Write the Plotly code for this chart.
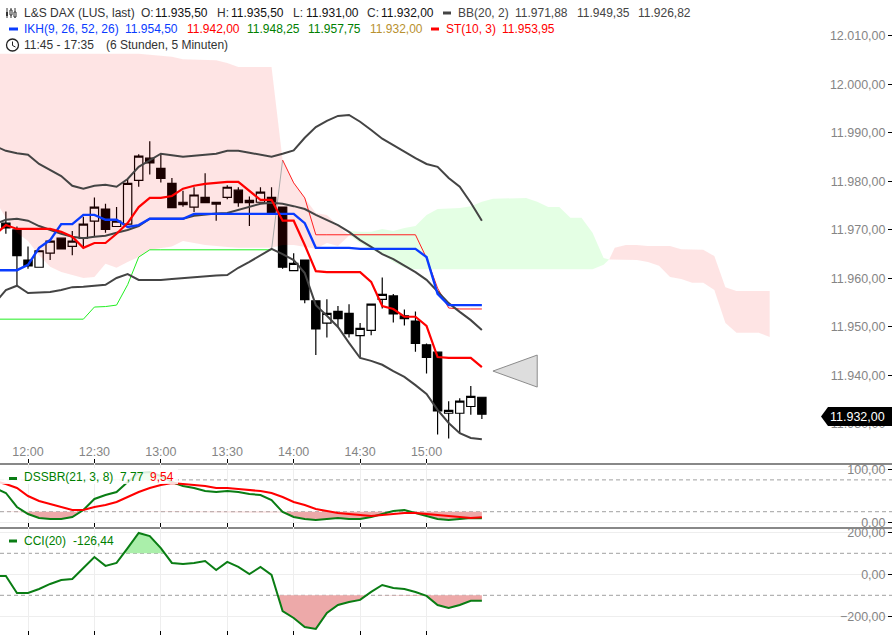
import numpy as np
import pandas as pd
import plotly.graph_objects as go
from plotly.subplots import make_subplots

DAY = "2015-03-02 "
W, H = 892, 635

# 5 minute grid, 11:45 to 17:35 (cloud runs ahead of the price)
times = pd.date_range(DAY + "11:45", periods=71, freq="5min")
tick_vals = [DAY + t for t in ["12:00", "12:30", "13:00", "13:30", "14:00", "14:30", "15:00"]]
tick_text = ["12:00", "12:30", "13:00", "13:30", "14:00", "14:30", "15:00"]

# candles start 11:50
opens = [11971.4, 11970.0, 11963.8, 11962.3, 11965.2, 11968.3, 11966.6, 11968.3, 11971.8, 11974.3, 11970.7,
         11971.2, 11980.2, 11984.8, 11982.7, 11979.6, 11975.7, 11974.7, 11976.7, 11975.3, 11976.7, 11978.2,
         11976.1, 11975.7, 11976.7, 11974.7, 11961.6, 11963.8, 11955.4, 11950.8, 11953.2, 11952.8, 11948.2,
         11949.3, 11955.7, 11956.4, 11952.3, 11951.2, 11946.3, 11944.8, 11932.2, 11932.2, 11933.6, 11935.5]
highs = [11973.8, 11970.7, 11966.6, 11965.7, 11967.7, 11968.3, 11969.8, 11972.7, 11976.7, 11975.4, 11974.7,
         11980.7, 11985.6, 11988.3, 11985.5, 11980.7, 11978.1, 11978.8, 11981.7, 11975.7, 11979.2, 11978.8,
         11976.9, 11978.8, 11978.8, 11974.7, 11965.2, 11963.8, 11955.4, 11955.7, 11954.3, 11954.7, 11950.8,
         11954.7, 11960.2, 11956.8, 11953.6, 11953.2, 11946.6, 11944.8, 11934.7, 11935.3, 11937.8, 11935.5]
lows = [11969.2, 11958.4, 11962.0, 11962.3, 11963.8, 11966.0, 11964.8, 11966.2, 11968.6, 11969.4, 11970.7,
        11971.0, 11978.9, 11981.4, 11979.8, 11974.6, 11974.8, 11973.7, 11975.6, 11971.9, 11976.3, 11974.8,
        11970.8, 11975.7, 11973.6, 11962.0, 11961.6, 11954.9, 11944.2, 11947.8, 11949.9, 11947.8, 11943.7,
        11948.3, 11953.8, 11950.9, 11950.3, 11944.9, 11940.4, 11927.8, 11927.0, 11928.1, 11931.9, 11931.0]
closes = [11970.4, 11964.7, 11962.6, 11965.7, 11967.7, 11966.1, 11967.7, 11971.2, 11974.7, 11970.1, 11971.8,
          11979.6, 11985.2, 11983.8, 11980.6, 11974.6, 11975.2, 11977.2, 11975.6, 11975.7, 11978.8, 11975.6,
          11975.6, 11977.8, 11973.6, 11962.3, 11963.1, 11955.6, 11949.6, 11952.8, 11951.7, 11948.6, 11949.7,
          11954.7, 11956.7, 11952.7, 11951.7, 11946.6, 11943.7, 11932.7, 11932.8, 11934.7, 11935.7, 11932.0]

# Bollinger bands, 11:45 to 15:25
bb_upper = [11987.3, 11986.3, 11985.8, 11985.5, 11983.6, 11982.4, 11981.1, 11979.1, 11978.5, 11979.1, 11979.3,
            11978.9, 11980.5, 11983.0, 11984.4, 11985.7, 11985.4, 11985.1, 11985.3, 11985.5, 11985.7, 11986.3,
            11986.3, 11985.9, 11985.5, 11985.1, 11985.7, 11986.4, 11989.0, 11991.2, 11992.5, 11993.5, 11993.7,
            11992.3, 11990.6, 11988.8, 11987.5, 11986.1, 11984.8, 11983.6, 11983.0, 11980.7, 11978.9, 11975.6,
            11971.88]
bb_mid = [11971.2, 11972.1, 11972.3, 11971.9, 11970.8, 11970.0, 11969.2, 11968.6, 11968.3, 11968.6, 11968.8,
          11969.4, 11970.0, 11970.8, 11972.3, 11972.3, 11972.3, 11972.3, 11972.9, 11973.2, 11973.4, 11973.5,
          11974.1, 11974.7, 11975.4, 11975.6, 11975.4, 11974.9, 11974.3, 11973.1, 11972.1, 11971.0, 11969.6,
          11967.9, 11966.5, 11965.0, 11964.0, 11962.6, 11961.3, 11959.7, 11957.4, 11954.9, 11953.1, 11951.4,
          11949.35]
bb_lower = [11954.9, 11957.6, 11958.5, 11957.0, 11957.1, 11957.2, 11957.6, 11958.2, 11958.3, 11958.5, 11958.7,
            11960.1, 11960.9, 11959.7, 11959.7, 11959.7, 11959.9, 11960.1, 11960.3, 11960.5, 11960.6, 11960.7,
            11962.2, 11963.4, 11964.8, 11966.1, 11965.0, 11963.8, 11961.1, 11954.5, 11952.3, 11950.0, 11946.7,
            11943.6, 11943.0, 11942.2, 11940.9, 11939.7, 11938.0, 11936.2, 11932.9, 11930.2, 11928.1, 11927.1,
            11926.82]

ikh_blue = [11961.7, 11961.7, 11961.7, 11962.8, 11966.3, 11967.9, 11971.2, 11971.2, 11973.1, 11973.1, 11972.1,
            11972.1, 11970.6, 11971.0, 11972.3, 11972.3, 11972.3, 11972.3, 11973.3, 11973.3, 11973.3, 11973.3,
            11973.3, 11973.3, 11973.3, 11973.3, 11973.3, 11973.3, 11971.4, 11966.3, 11966.3, 11966.3, 11966.3,
            11966.1, 11966.1, 11966.1, 11966.1, 11966.1, 11966.1, 11964.4, 11956.8, 11954.5, 11954.5, 11954.5,
            11954.5]
st_red = [11969.0, 11971.0, 11970.2, 11970.2, 11970.2, 11970.2, 11969.6, 11968.6, 11966.3, 11967.3, 11967.3,
          11969.2, 11971.4, 11974.7, 11976.6, 11976.6, 11977.0, 11978.5, 11979.1, 11979.5, 11979.7, 11979.9,
          11979.9, 11978.0, 11976.2, 11976.2, 11971.9, 11971.9, 11966.9, 11961.5, 11961.3, 11961.3, 11961.3,
          11961.3, 11959.3, 11954.3, 11953.7, 11952.1, 11952.1, 11950.2, 11943.8, 11943.6, 11943.6, 11943.6,
          11941.7]

# thin ichimoku lines: green 11:45 to 13:50, red 13:55 to 15:25
thin_green = [11951.6, 11951.6, 11951.6, 11951.6, 11951.6, 11951.6, 11951.6, 11951.6, 11951.6, 11954.1, 11954.2,
              11954.5, 11958.7, 11964.4, 11965.9, 11965.9, 11965.9, 11965.9, 11965.9, 11965.9, 11965.9, 11965.9,
              11965.9, 11965.9, 11965.9, 11965.9]
thin_red = [11984.4, 11979.7, 11976.6, 11969.0, 11969.0, 11969.0, 11969.0, 11969.0, 11969.0, 11969.0, 11969.0,
            11969.0, 11969.0, 11964.2, 11958.0, 11953.9, 11953.7, 11953.7, 11953.7]

# cloud, pink part 11:45 to 14:30
pink_top = [12006.3] * 14 + [12006.1, 12005.9, 12005.7, 12005.2, 12005.1, 12005.1, 12005.0, 12004.4, 12003.6,
                             12003.6, 12003.6, 12003.6, 11984.4, 11979.7, 11976.6, 11973.5, 11973.1, 11971.0, 11969.0]
pink_bot = [11976.2, 11972.5, 11969.4, 11967.7, 11964.8, 11962.4, 11961.3, 11960.7, 11960.1, 11960.3, 11963.0,
            11962.2, 11963.4, 11964.4, 11965.9, 11966.3, 11966.6, 11967.7, 11967.3, 11966.9, 11966.7, 11966.5,
            11966.3, 11966.3, 11966.3, 11966.3, 11966.9, 11966.9, 11966.5, 11966.1, 11967.3, 11966.7, 11968.8]
# green part 14:30 to 16:20
green_top = [11969.8, 11969.6, 11969.6, 11970.2, 11969.8, 11970.4, 11970.8, 11973.1, 11974.3, 11974.4, 11974.5,
             11974.9, 11975.8, 11976.4, 11976.5, 11976.6, 11976.6, 11975.8, 11974.7, 11974.7, 11972.5, 11972.5,
             11969.4, 11964.2]
green_bot = [11969.0, 11967.3, 11965.9, 11965.0, 11963.4, 11962.2] + [11961.9] * 17 + [11962.8]
# second pink part 16:25 to 17:35
pink2_top = [11966.3, 11966.9, 11966.9, 11966.7, 11966.7, 11966.7, 11966.0, 11965.9, 11965.9, 11964.6, 11958.2,
             11957.4, 11957.4, 11957.4, 11957.4]
pink2_bot = [11963.9, 11963.8, 11963.8, 11963.4, 11962.6, 11960.3, 11959.9, 11959.1, 11959.1, 11957.6, 11950.8,
             11948.8, 11948.8, 11948.8, 11947.9]
cloud_cross = pd.Timestamp(DAY + "16:22:30")
cloud_cross_val = 11963.9

dss_green = [64.7, 55.3, 28.9, 15.7, 8.1, 6.2, 6.2, 10, 23.2, 44, 51.5, 57.2, 76, 93, 94.9, 87.4, 76, 68.5, 64.7,
             59, 57.2, 59, 57.2, 53.4, 51.5, 42, 19.4, 10, 6.2, 4.3, 6.2, 8.1, 6.2, 6.2, 10, 15.7, 21.3, 23.2,
             17.5, 11.9, 6.2, 4.3, 6.2, 8.1, 7.77]
dss_red = [77.9, 72.3, 64.7, 49.6, 40.2, 34.5, 28.9, 23.2, 23.2, 28.9, 32.6, 38.3, 47.7, 57.2, 64.7, 70.4, 74.2,
           72.3, 70.4, 68.5, 64.7, 64.7, 62.8, 60.9, 59, 55.3, 47.7, 38.3, 32.6, 25.1, 21.3, 17.5, 15.7, 13.8,
           11.9, 13.8, 15.7, 17.5, 17.5, 15.7, 13.8, 11.9, 10, 8.1, 9.54]
cci = [-8, -8, -89, -89, -70, -46, -27, -22, 30, 82, 40, 54, 125, 197, 182, 125, 54, 49, 54, 63, 20, 59, 35, 1,
       35, -3, -175, -208, -251, -260, -184, -146, -132, -122, -84, -51, -65, -70, -84, -103, -146, -160, -146,
       -126.44, -126.44]

# arrow that marks the last price
marker_times = [DAY + "15:30", DAY + "15:50", DAY + "15:50"]
marker_vals = [11940.9, 11944.2, 11937.6]

PINK = "rgba(250,0,0,0.105)"
PALE_GREEN = "rgba(0,255,0,0.105)"
DARK = "#444444"
BAND_RED = "#eda9a9"
BAND_GREEN = "#aaefaa"
TEXT = "#333333"
GRAY = "#858585"
LINE_GREEN = "#0a7d14"


def px(x, y):
    return x / W, 1 - y / H


def line(x, y, color, width=2, row=1):
    fig.add_trace(
        go.Scatter(x=x, y=y, mode="lines", line=dict(color=color, width=width), hoverinfo="skip"),
        row=row, col=1,
    )


def band(x, top, bot, color):
    fig.add_trace(
        go.Scatter(x=list(x) + list(x)[::-1], y=list(top) + list(bot)[::-1], mode="lines", fill="toself",
                   fillcolor=color, line=dict(width=0), hoverinfo="skip"),
    )


def level_fill(values, level, color, row, above):
    # shade between a series and a guide level
    sec = (times[:45] - times[0]).total_seconds().to_numpy()
    fine = np.arange(0, sec[-1] + 1, 15)
    vals = np.interp(fine, sec, values)
    vals = np.maximum(vals, level) if above else np.minimum(vals, level)
    xs = times[0] + pd.to_timedelta(fine, unit="s")
    fig.add_trace(
        go.Scatter(x=list(xs) + list(xs)[::-1], y=list(vals) + [level] * len(xs), mode="lines", fill="toself",
                   fillcolor=color, line=dict(width=0), hoverinfo="skip"),
        row=row, col=1,
    )


def label(x, y, text, color=TEXT, size=12):
    ax, ay = px(x, y)
    fig.add_annotation(x=ax, y=ay, xref="paper", yref="paper", text=text, showarrow=False, xanchor="left",
                       yanchor="middle", borderpad=0, font=dict(size=size, color=color))


def rect(x0, y0, x1, y1, color, lw=0, lc=None):
    a, b = px(x0, y0)
    c, d = px(x1, y1)
    fig.add_shape(type="rect", xref="paper", yref="paper", x0=a, y0=b, x1=c, y1=d, fillcolor=color,
                  line=dict(width=lw, color=lc))


def seg(x0, y0, x1, y1, color=TEXT, lw=1):
    a, b = px(x0, y0)
    c, d = px(x1, y1)
    fig.add_shape(type="line", xref="paper", yref="paper", x0=a, y0=b, x1=c, y1=d, line=dict(color=color, width=lw))


fig = make_subplots(rows=3, cols=1, shared_xaxes=True, vertical_spacing=0,
                    row_heights=[462.5 / H, 64 / H, 108.5 / H])

fig.add_trace(
    go.Candlestick(x=times[1:45], open=opens, high=highs, low=lows, close=closes, hoverinfo="skip", whiskerwidth=0,
                   increasing=dict(line=dict(color="#000000", width=1.2), fillcolor="#ffffff"),
                   decreasing=dict(line=dict(color="#000000", width=1.2), fillcolor="#000000")),
    row=1, col=1,
)

band(times[:33], pink_top, pink_bot, PINK)
band(list(times[32:56]) + [cloud_cross], green_top + [cloud_cross_val], green_bot + [cloud_cross_val], PALE_GREEN)
band([cloud_cross] + list(times[56:71]), [cloud_cross_val] + pink2_top, [cloud_cross_val] + pink2_bot, PINK)

line(times[:26], thin_green, "#22ee22", 1)
line([times[25], times[26]], [thin_green[-1], thin_red[0]], "#aaaaaa", 1)
line(times[26:45], thin_red, "#ff2020", 1)
line(times[:45], bb_upper, DARK)
line(times[:45], bb_mid, DARK)
line(times[:45], bb_lower, DARK)
line(times[:45], ikh_blue, "#0a3cff", 2.4)
line(times[:45], st_red, "#ff0000", 2.2)

fig.add_trace(
    go.Scatter(x=marker_times + marker_times[:1], y=marker_vals + marker_vals[:1], mode="lines", fill="toself",
               fillcolor="#dddddd", line=dict(color="#8c8c8c", width=1), hoverinfo="skip"),
    row=1, col=1,
)

level_fill(dss_green, 20, BAND_RED, 2, False)
level_fill(dss_green, 80, BAND_GREEN, 2, True)
line(times[:45], dss_green, LINE_GREEN, 2, row=2)
line(times[:45], dss_red, "#ff0000", 2, row=2)

level_fill(cci, -100, BAND_RED, 3, False)
level_fill(cci, 100, BAND_GREEN, 3, True)
line(times[:45], cci, LINE_GREEN, 2, row=3)

x_range = [DAY + "11:47:21", DAY + "18:30:15"]
axis_x = dict(range=x_range, tickmode="array", tickvals=tick_vals, ticktext=tick_text, ticks="inside", ticklen=4,
              tickcolor="#000000", tickwidth=1, showline=True, linecolor="#888888", linewidth=1.5, zeroline=False,
              rangeslider=dict(visible=False), automargin=False)
fig.update_xaxes(**axis_x)
fig.update_xaxes(row=1, col=1, showticklabels=True, ticklabelposition="inside", showgrid=False,
                 tickfont=dict(size=12.5, color=GRAY))
fig.update_xaxes(row=2, col=1, showticklabels=False, showgrid=True, gridcolor="#eeeeee")
fig.update_xaxes(row=3, col=1, showticklabels=False, showgrid=True, gridcolor="#eeeeee")

axis_y = dict(side="right", ticklabelposition="inside", ticklabeloverflow="allow", ticklabelstandoff=2,
              ticks="inside", ticklen=4, tickcolor="#000000", tickformat=",.2f", automargin=False,
              tickfont=dict(size=12.5, color=GRAY), zeroline=False, showline=False)
fig.update_yaxes(**axis_y)
fig.update_yaxes(row=1, col=1, range=[11922.05, 12017.4], showgrid=False, tickmode="array",
                 tickvals=[11930, 11940, 11950, 11960, 11970, 11980, 11990, 12000, 12010])
fig.update_yaxes(row=2, col=1, range=[-7.9, 112.8], showgrid=True, gridcolor="#eeeeee", tickmode="array",
                 tickvals=[0, 100])
fig.update_yaxes(row=3, col=1, range=[-289, 227.6], showgrid=True, gridcolor="#eeeeee", tickmode="array",
                 tickvals=[-200, 0, 200])

for level, yref in [(80, "y2"), (20, "y2"), (100, "y3"), (-100, "y3")]:
    fig.add_shape(type="line", xref="paper", x0=0, x1=1, yref=yref, y0=level, y1=level, layer="below",
                  line=dict(color="#a0a0a0", width=1, dash="4px,3px"))

# legend rows
label(23, 13, "L&S DAX (LUS, last)")
label(140, 13, "O:")
label(154, 13, "11.935,50", "#111111")
label(216, 13, "H:")
label(230, 13, "11.935,50", "#111111")
label(292, 13, "L:")
label(305, 13, "11.931,00", "#111111")
label(366, 13, "C:")
label(380, 13, "11.932,00", "#111111")
rect(443, 11.5, 451, 14.5, DARK)
label(457, 13, "BB(20, 2)", "#444444")
label(514, 13, "11.971,88", "#444444")
label(576, 13, "11.949,35", "#444444")
label(637, 13, "11.926,82", "#444444")

rect(9, 27.5, 18, 30.5, "#0a3cff")
label(23, 29, "IKH(9, 26, 52, 26)", "#0a3cff")
label(124, 29, "11.954,50", "#0a3cff")
label(186, 29, "11.942,00", "#ff0000")
label(246, 29, "11.948,25", "#008000")
label(307, 29, "11.957,75", "#008000")
label(369, 29, "11.932,00", "#b8912f")
rect(431, 27.5, 439, 30.5, "#ff0000")
label(445, 29, "ST(10, 3)", "#ff0000")
label(501, 29, "11.953,95", "#ff0000")

label(23, 45, "11:45 - 17:35")
label(105, 45, "(6 Stunden, 5 Minuten)")

# small candle icon
for cx in [7, 11, 15]:
    seg(cx, 8, cx, 18)
rect(6, 12, 8, 16, "#333333")
rect(10, 10, 12, 15, "#ffffff", 1, "#333333")
rect(14, 12, 16, 17, "#ffffff", 1, "#333333")

# clock icon
a, b = px(6.5, 39)
c, d = px(18.5, 51)
fig.add_shape(type="circle", xref="paper", yref="paper", x0=a, y0=b, x1=c, y1=d, line=dict(color="#222222", width=1.3))
seg(12.5, 41.5, 12.5, 45.5, "#222222")
seg(12.5, 45.5, 15.5, 47, "#222222")

# indicator legends on a pale box
rect(0, 468, 178, 484, "rgba(255,255,255,0.85)")
rect(9, 477, 17, 480, LINE_GREEN)
label(23, 477, "DSSBR(21, 3, 8)", "#008000")
label(119, 477, "7,77", "#008000")
label(149, 477, "9,54", "#ff0000")
rect(9, 539.5, 17, 542.5, LINE_GREEN)
label(23, 541, "CCI(20)", "#008000")
label(72, 541, "-126,44", "#008000")

# last price tag
tag = [px(821, 416.5), px(828, 407), px(892, 407), px(892, 426), px(828, 426)]
path = "M " + " L ".join(f"{x},{y}" for x, y in tag) + " Z"
fig.add_shape(type="path", xref="paper", yref="paper", path=path, fillcolor="#000000", line=dict(width=0))
tx, ty = px(886, 417)
fig.add_annotation(x=tx, y=ty, xref="paper", yref="paper", text="11.932,00", showarrow=False, xanchor="right",
                   yanchor="middle", borderpad=0, font=dict(size=12.5, color="#ffffff"))

fig.update_layout(
    width=W, height=H, margin=dict(l=0, r=0, t=0, b=0, pad=0, autoexpand=False), showlegend=False,
    plot_bgcolor="#ffffff", paper_bgcolor="#ffffff", separators=",.", boxgap=0.25, boxgroupgap=0, hovermode=False,
    font=dict(family="Liberation Sans, Arial, sans-serif", size=12, color=TEXT),
)

fig.write_html("out.html", config=dict(displayModeBar=False), post_script="document.body.style.margin='0';")
